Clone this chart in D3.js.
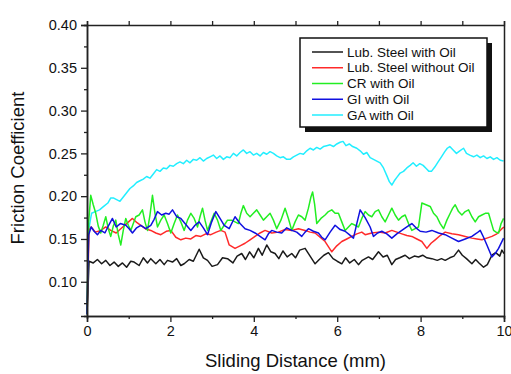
<!DOCTYPE html>
<html lang="en">
<head>
  <meta charset="UTF-8">
  <title>Friction Coefficient vs Sliding Distance</title>
  <style>
    body { margin: 0; background: #fff; }
    text { font-family: "Liberation Sans", Arial, sans-serif; fill: #111; }
    .line { fill: none; stroke-width: 1.5; stroke-linejoin: round; }
  </style>
</head>
<body>
  <svg id="chart" width="511" height="374"></svg>

  <script src="https://d3js.org/d3.v7.min.js"></script>
  <script>
    // series as [distance mm, friction coefficient]
    const steelOil = [[0,0.062],[0.05,0.124],[0.15,0.122],[0.25,0.126],[0.35,0.121],[0.45,0.125],[0.55,0.119],[0.65,0.123],[0.75,0.118],[0.85,0.122],[0.95,0.117],[1.05,0.124],[1.13,0.123],[1.25,0.119],[1.35,0.128],[1.45,0.122],[1.53,0.127],[1.65,0.121],[1.75,0.126],[1.85,0.120],[1.93,0.125],[2.05,0.123],[2.15,0.127],[2.25,0.119],[2.33,0.121],[2.45,0.126],[2.55,0.124],[2.69,0.138],[2.79,0.128],[2.89,0.125],[3.0,0.118],[3.13,0.120],[3.25,0.128],[3.37,0.127],[3.5,0.122],[3.6,0.130],[3.71,0.133],[3.8,0.126],[3.9,0.135],[4.0,0.128],[4.11,0.139],[4.2,0.131],[4.31,0.143],[4.41,0.135],[4.51,0.133],[4.6,0.127],[4.7,0.136],[4.8,0.129],[4.91,0.133],[5.0,0.128],[5.1,0.137],[5.23,0.139],[5.35,0.130],[5.47,0.121],[5.57,0.126],[5.68,0.131],[5.79,0.134],[5.9,0.127],[6.0,0.124],[6.11,0.121],[6.2,0.128],[6.3,0.122],[6.41,0.126],[6.51,0.120],[6.6,0.125],[6.75,0.129],[6.85,0.126],[6.99,0.135],[7.1,0.129],[7.2,0.131],[7.31,0.120],[7.4,0.126],[7.5,0.128],[7.63,0.131],[7.73,0.127],[7.85,0.130],[7.95,0.129],[8.05,0.131],[8.15,0.128],[8.27,0.127],[8.4,0.125],[8.5,0.127],[8.59,0.125],[8.7,0.128],[8.8,0.130],[8.91,0.137],[9.0,0.131],[9.1,0.127],[9.23,0.121],[9.32,0.126],[9.4,0.122],[9.51,0.117],[9.6,0.120],[9.71,0.131],[9.8,0.134],[9.9,0.130],[9.95,0.137],[10,0.133]];

    const steelNoOil = [[0,0.062],[0.05,0.160],[0.1,0.164],[0.2,0.158],[0.33,0.160],[0.45,0.164],[0.57,0.160],[0.7,0.157],[0.81,0.162],[0.95,0.168],[1.09,0.174],[1.2,0.169],[1.29,0.166],[1.4,0.162],[1.53,0.160],[1.65,0.157],[1.77,0.155],[1.9,0.159],[2.01,0.160],[2.13,0.152],[2.25,0.149],[2.37,0.151],[2.49,0.150],[2.61,0.154],[2.73,0.153],[2.85,0.156],[2.97,0.155],[3.1,0.158],[3.21,0.160],[3.31,0.158],[3.41,0.143],[3.55,0.139],[3.67,0.142],[3.79,0.145],[3.91,0.149],[4.03,0.153],[4.15,0.157],[4.27,0.160],[4.43,0.157],[4.59,0.158],[4.75,0.161],[4.91,0.160],[5.07,0.162],[5.23,0.160],[5.35,0.158],[5.47,0.157],[5.59,0.152],[5.71,0.147],[5.87,0.135],[5.99,0.142],[6.11,0.147],[6.23,0.150],[6.35,0.153],[6.47,0.156],[6.59,0.158],[6.67,0.155],[6.83,0.157],[6.99,0.158],[7.15,0.157],[7.31,0.160],[7.43,0.158],[7.55,0.156],[7.67,0.154],[7.79,0.153],[7.91,0.150],[8.03,0.147],[8.15,0.139],[8.25,0.145],[8.35,0.149],[8.47,0.154],[8.59,0.158],[8.75,0.156],[8.91,0.155],[9.07,0.153],[9.23,0.151],[9.35,0.150],[9.47,0.149],[9.59,0.151],[9.71,0.153],[9.83,0.156],[9.95,0.162],[10,0.164]];

    const crOil = [[0,0.062],[0.04,0.170],[0.09,0.201],[0.15,0.190],[0.21,0.180],[0.27,0.165],[0.33,0.157],[0.39,0.166],[0.45,0.176],[0.51,0.162],[0.57,0.153],[0.63,0.165],[0.69,0.172],[0.75,0.155],[0.81,0.143],[0.87,0.160],[0.93,0.174],[0.99,0.166],[1.05,0.160],[1.11,0.168],[1.17,0.176],[1.25,0.178],[1.33,0.184],[1.39,0.170],[1.45,0.160],[1.51,0.178],[1.57,0.201],[1.63,0.180],[1.69,0.164],[1.77,0.172],[1.85,0.178],[1.93,0.168],[2.01,0.157],[2.09,0.168],[2.17,0.178],[2.25,0.170],[2.33,0.160],[2.41,0.172],[2.49,0.180],[2.57,0.174],[2.65,0.164],[2.71,0.176],[2.77,0.186],[2.83,0.172],[2.89,0.160],[2.97,0.170],[3.05,0.180],[3.13,0.172],[3.21,0.160],[3.29,0.166],[3.37,0.172],[3.47,0.172],[3.55,0.170],[3.63,0.168],[3.69,0.180],[3.75,0.189],[3.83,0.180],[3.91,0.176],[3.99,0.180],[4.07,0.184],[4.15,0.178],[4.23,0.172],[4.31,0.176],[4.39,0.180],[4.47,0.172],[4.55,0.162],[4.65,0.172],[4.75,0.186],[4.83,0.174],[4.91,0.160],[4.99,0.170],[5.07,0.178],[5.15,0.176],[5.23,0.172],[5.31,0.186],[5.37,0.199],[5.41,0.205],[5.46,0.190],[5.51,0.168],[5.61,0.174],[5.71,0.178],[5.79,0.182],[5.87,0.184],[5.95,0.180],[6.03,0.180],[6.11,0.170],[6.19,0.160],[6.27,0.164],[6.35,0.168],[6.43,0.166],[6.51,0.164],[6.59,0.174],[6.67,0.182],[6.75,0.178],[6.83,0.176],[6.91,0.182],[6.99,0.184],[7.07,0.176],[7.15,0.170],[7.23,0.178],[7.31,0.186],[7.39,0.178],[7.47,0.172],[7.55,0.176],[7.63,0.178],[7.71,0.168],[7.79,0.160],[7.87,0.162],[7.95,0.164],[8.03,0.192],[8.13,0.190],[8.23,0.188],[8.31,0.180],[8.39,0.176],[8.47,0.168],[8.55,0.162],[8.63,0.172],[8.71,0.180],[8.77,0.186],[8.83,0.190],[8.91,0.182],[8.99,0.178],[9.07,0.182],[9.15,0.184],[9.23,0.176],[9.31,0.170],[9.39,0.176],[9.47,0.178],[9.55,0.180],[9.63,0.180],[9.69,0.170],[9.75,0.160],[9.81,0.158],[9.87,0.157],[9.93,0.168],[9.99,0.174]];

    const giOil = [[0,0.062],[0.04,0.155],[0.1,0.164],[0.17,0.159],[0.25,0.155],[0.33,0.160],[0.43,0.157],[0.52,0.166],[0.61,0.174],[0.7,0.164],[0.8,0.168],[0.93,0.166],[1.01,0.162],[1.09,0.157],[1.19,0.163],[1.29,0.166],[1.41,0.162],[1.53,0.166],[1.61,0.173],[1.69,0.182],[1.79,0.178],[1.89,0.180],[1.97,0.179],[2.05,0.184],[2.15,0.176],[2.25,0.174],[2.37,0.167],[2.49,0.160],[2.59,0.166],[2.69,0.170],[2.79,0.163],[2.89,0.155],[2.99,0.170],[3.09,0.182],[3.19,0.174],[3.29,0.166],[3.41,0.162],[3.55,0.176],[3.67,0.168],[3.79,0.162],[3.91,0.160],[4.03,0.157],[4.15,0.153],[4.27,0.149],[4.35,0.156],[4.43,0.160],[4.55,0.158],[4.67,0.157],[4.79,0.163],[4.91,0.160],[5.03,0.158],[5.15,0.153],[5.23,0.158],[5.31,0.162],[5.43,0.159],[5.55,0.157],[5.63,0.152],[5.71,0.149],[5.83,0.158],[5.95,0.166],[6.07,0.161],[6.19,0.159],[6.29,0.155],[6.39,0.151],[6.47,0.168],[6.55,0.184],[6.67,0.175],[6.79,0.164],[6.87,0.153],[6.97,0.157],[7.07,0.159],[7.19,0.156],[7.31,0.151],[7.43,0.156],[7.55,0.160],[7.67,0.164],[7.79,0.168],[7.89,0.163],[7.99,0.159],[8.13,0.158],[8.27,0.160],[8.43,0.157],[8.59,0.155],[8.75,0.151],[8.91,0.147],[9.07,0.150],[9.23,0.153],[9.35,0.157],[9.43,0.160],[9.51,0.152],[9.59,0.143],[9.71,0.129],[9.79,0.133],[9.87,0.139],[9.99,0.151]];

    const gaOil = [[0,0.062],[0.04,0.160],[0.08,0.172],[0.11,0.180],[0.2,0.182],[0.3,0.184],[0.4,0.188],[0.5,0.192],[0.57,0.198],[0.63,0.198],[0.71,0.196],[0.79,0.194],[0.87,0.199],[0.95,0.204],[1.03,0.209],[1.11,0.212],[1.19,0.216],[1.27,0.218],[1.35,0.220],[1.43,0.223],[1.51,0.221],[1.59,0.226],[1.67,0.231],[1.75,0.229],[1.83,0.233],[1.91,0.232],[1.99,0.236],[2.07,0.235],[2.15,0.238],[2.23,0.240],[2.31,0.238],[2.39,0.242],[2.47,0.239],[2.55,0.243],[2.63,0.242],[2.71,0.245],[2.79,0.241],[2.87,0.244],[2.95,0.246],[3.03,0.248],[3.11,0.244],[3.19,0.247],[3.27,0.243],[3.35,0.246],[3.43,0.245],[3.51,0.250],[3.59,0.247],[3.67,0.251],[3.75,0.254],[3.83,0.250],[3.91,0.252],[3.99,0.248],[4.07,0.250],[4.15,0.247],[4.23,0.251],[4.31,0.249],[4.39,0.252],[4.47,0.250],[4.55,0.247],[4.63,0.245],[4.71,0.246],[4.79,0.243],[4.87,0.243],[4.95,0.246],[5.03,0.248],[5.11,0.250],[5.19,0.249],[5.27,0.253],[5.35,0.256],[5.43,0.254],[5.51,0.257],[5.59,0.255],[5.67,0.258],[5.75,0.259],[5.83,0.260],[5.91,0.258],[5.99,0.261],[6.07,0.263],[6.14,0.264],[6.21,0.259],[6.29,0.261],[6.37,0.258],[6.47,0.256],[6.55,0.253],[6.63,0.249],[6.71,0.251],[6.79,0.245],[6.87,0.243],[6.95,0.241],[7.03,0.239],[7.11,0.233],[7.19,0.224],[7.25,0.217],[7.31,0.213],[7.37,0.218],[7.43,0.222],[7.51,0.227],[7.59,0.229],[7.67,0.233],[7.75,0.236],[7.82,0.239],[7.9,0.235],[7.98,0.238],[8.06,0.236],[8.14,0.232],[8.2,0.229],[8.26,0.229],[8.34,0.234],[8.42,0.240],[8.5,0.246],[8.58,0.252],[8.64,0.256],[8.7,0.258],[8.78,0.254],[8.86,0.250],[8.94,0.253],[9.03,0.256],[9.1,0.250],[9.18,0.248],[9.27,0.246],[9.35,0.248],[9.43,0.245],[9.51,0.247],[9.59,0.244],[9.67,0.246],[9.75,0.243],[9.83,0.245],[9.91,0.242],[9.99,0.241]];

    const seriesNames = ["Lub. Steel with Oil", "Lub. Steel without Oil", "CR with Oil", "GI with Oil", "GA with Oil"];
    const seriesColors = ["#1a1a1a", "#ff2a2a", "#22ee22", "#1010e0", "#22eeff"];
    const seriesData = [steelOil, steelNoOil, crOil, giOil, gaOil];
    // draw order: back to front
    const drawOrder = [4, 0, 1, 2, 3];

    const xTicks = [0, 2, 4, 6, 8, 10];
    const yTicks = [0.10, 0.15, 0.20, 0.25, 0.30, 0.35, 0.40];

    const plotLeft = 87, plotRight = 504, plotTop = 25, plotBottom = 316;
    const svg = d3.select("#chart");

    const x = d3.scaleLinear().domain([0, 10]).range([plotLeft, plotRight]);
    const y = d3.scaleLinear().domain([0.06, 0.40]).range([plotBottom, plotTop]);

    const line = d3.line()
      .x(d => x(d[0]))
      .y(d => y(d[1]));

    drawOrder.forEach(i => {
      svg.append("path")
        .datum(seriesData[i])
        .attr("class", "line")
        .attr("stroke", seriesColors[i])
        .attr("d", line);
    });

    // axes
    const axisColor = "#222";
    function styleAxis(g) {
      g.selectAll("path").attr("stroke", axisColor).attr("stroke-width", 1.5);
      g.selectAll("line").attr("stroke", axisColor).attr("stroke-width", 1.3);
      g.selectAll("text")
        .attr("font-size", "14.5px")
        .attr("font-family", "'Liberation Sans', Arial, sans-serif")
        .attr("fill", "#111");
    }

    // minor ticks first
    svg.append("g")
      .attr("transform", `translate(0,${plotBottom})`)
      .call(d3.axisBottom(x).tickValues([1, 3, 5, 7, 9]).tickSize(3).tickFormat(""))
      .call(styleAxis);
    svg.append("g")
      .attr("transform", `translate(${plotLeft},0)`)
      .call(d3.axisLeft(y).tickValues([0.075, 0.125, 0.175, 0.225, 0.275, 0.325, 0.375]).tickSize(3).tickFormat(""))
      .call(styleAxis);

    svg.append("g")
      .attr("transform", `translate(0,${plotBottom})`)
      .call(d3.axisBottom(x).tickValues(xTicks).tickSize(6).tickPadding(4).tickFormat(d3.format("d")))
      .call(styleAxis);
    svg.append("g")
      .attr("transform", `translate(${plotLeft},0)`)
      .call(d3.axisLeft(y).tickValues(yTicks).tickSize(6).tickPadding(4).tickFormat(d3.format(".2f")))
      .call(styleAxis);
    svg.append("g")
      .attr("transform", `translate(0,${plotTop})`)
      .call(d3.axisTop(x).ticks(10).tickSize(4).tickFormat(""))
      .call(styleAxis);
    svg.append("g")
      .attr("transform", `translate(${plotRight},0)`)
      .call(d3.axisRight(y).tickValues([]).tickSizeOuter(0))
      .call(styleAxis);

    // axis titles
    svg.append("text")
      .attr("x", (plotLeft + plotRight) / 2)
      .attr("y", 367)
      .attr("text-anchor", "middle")
      .attr("font-size", "18.5px")
      .text("Sliding Distance (mm)");

    svg.append("text")
      .attr("transform", "translate(24,168) rotate(-90)")
      .attr("text-anchor", "middle")
      .attr("font-size", "18.5px")
      .text("Friction Coefficient");

    // legend
    const lg = { x: 300, y: 38, w: 187, h: 89 };
    svg.append("rect")
      .attr("x", lg.x + 5).attr("y", lg.y + 5)
      .attr("width", lg.w).attr("height", lg.h)
      .attr("fill", "#111");
    svg.append("rect")
      .attr("x", lg.x).attr("y", lg.y)
      .attr("width", lg.w).attr("height", lg.h)
      .attr("fill", "#fff")
      .attr("stroke", "#111")
      .attr("stroke-width", 1.5);

    const legendRow = d3.scaleLinear().domain([0, 4]).range([lg.y + 14, lg.y + 77]);
    const rows = svg.append("g").selectAll("g")
      .data(seriesNames)
      .enter()
      .append("g")
      .attr("transform", (d, i) => `translate(0,${legendRow(i)})`);

    rows.append("line")
      .attr("x1", 312).attr("x2", 343)
      .attr("stroke", (d, i) => seriesColors[i])
      .attr("stroke-width", 1.5);

    rows.append("text")
      .attr("x", 347)
      .attr("dy", "0.35em")
      .attr("font-size", "13.5px")
      .text(d => d);
  </script>
</body>
</html>
